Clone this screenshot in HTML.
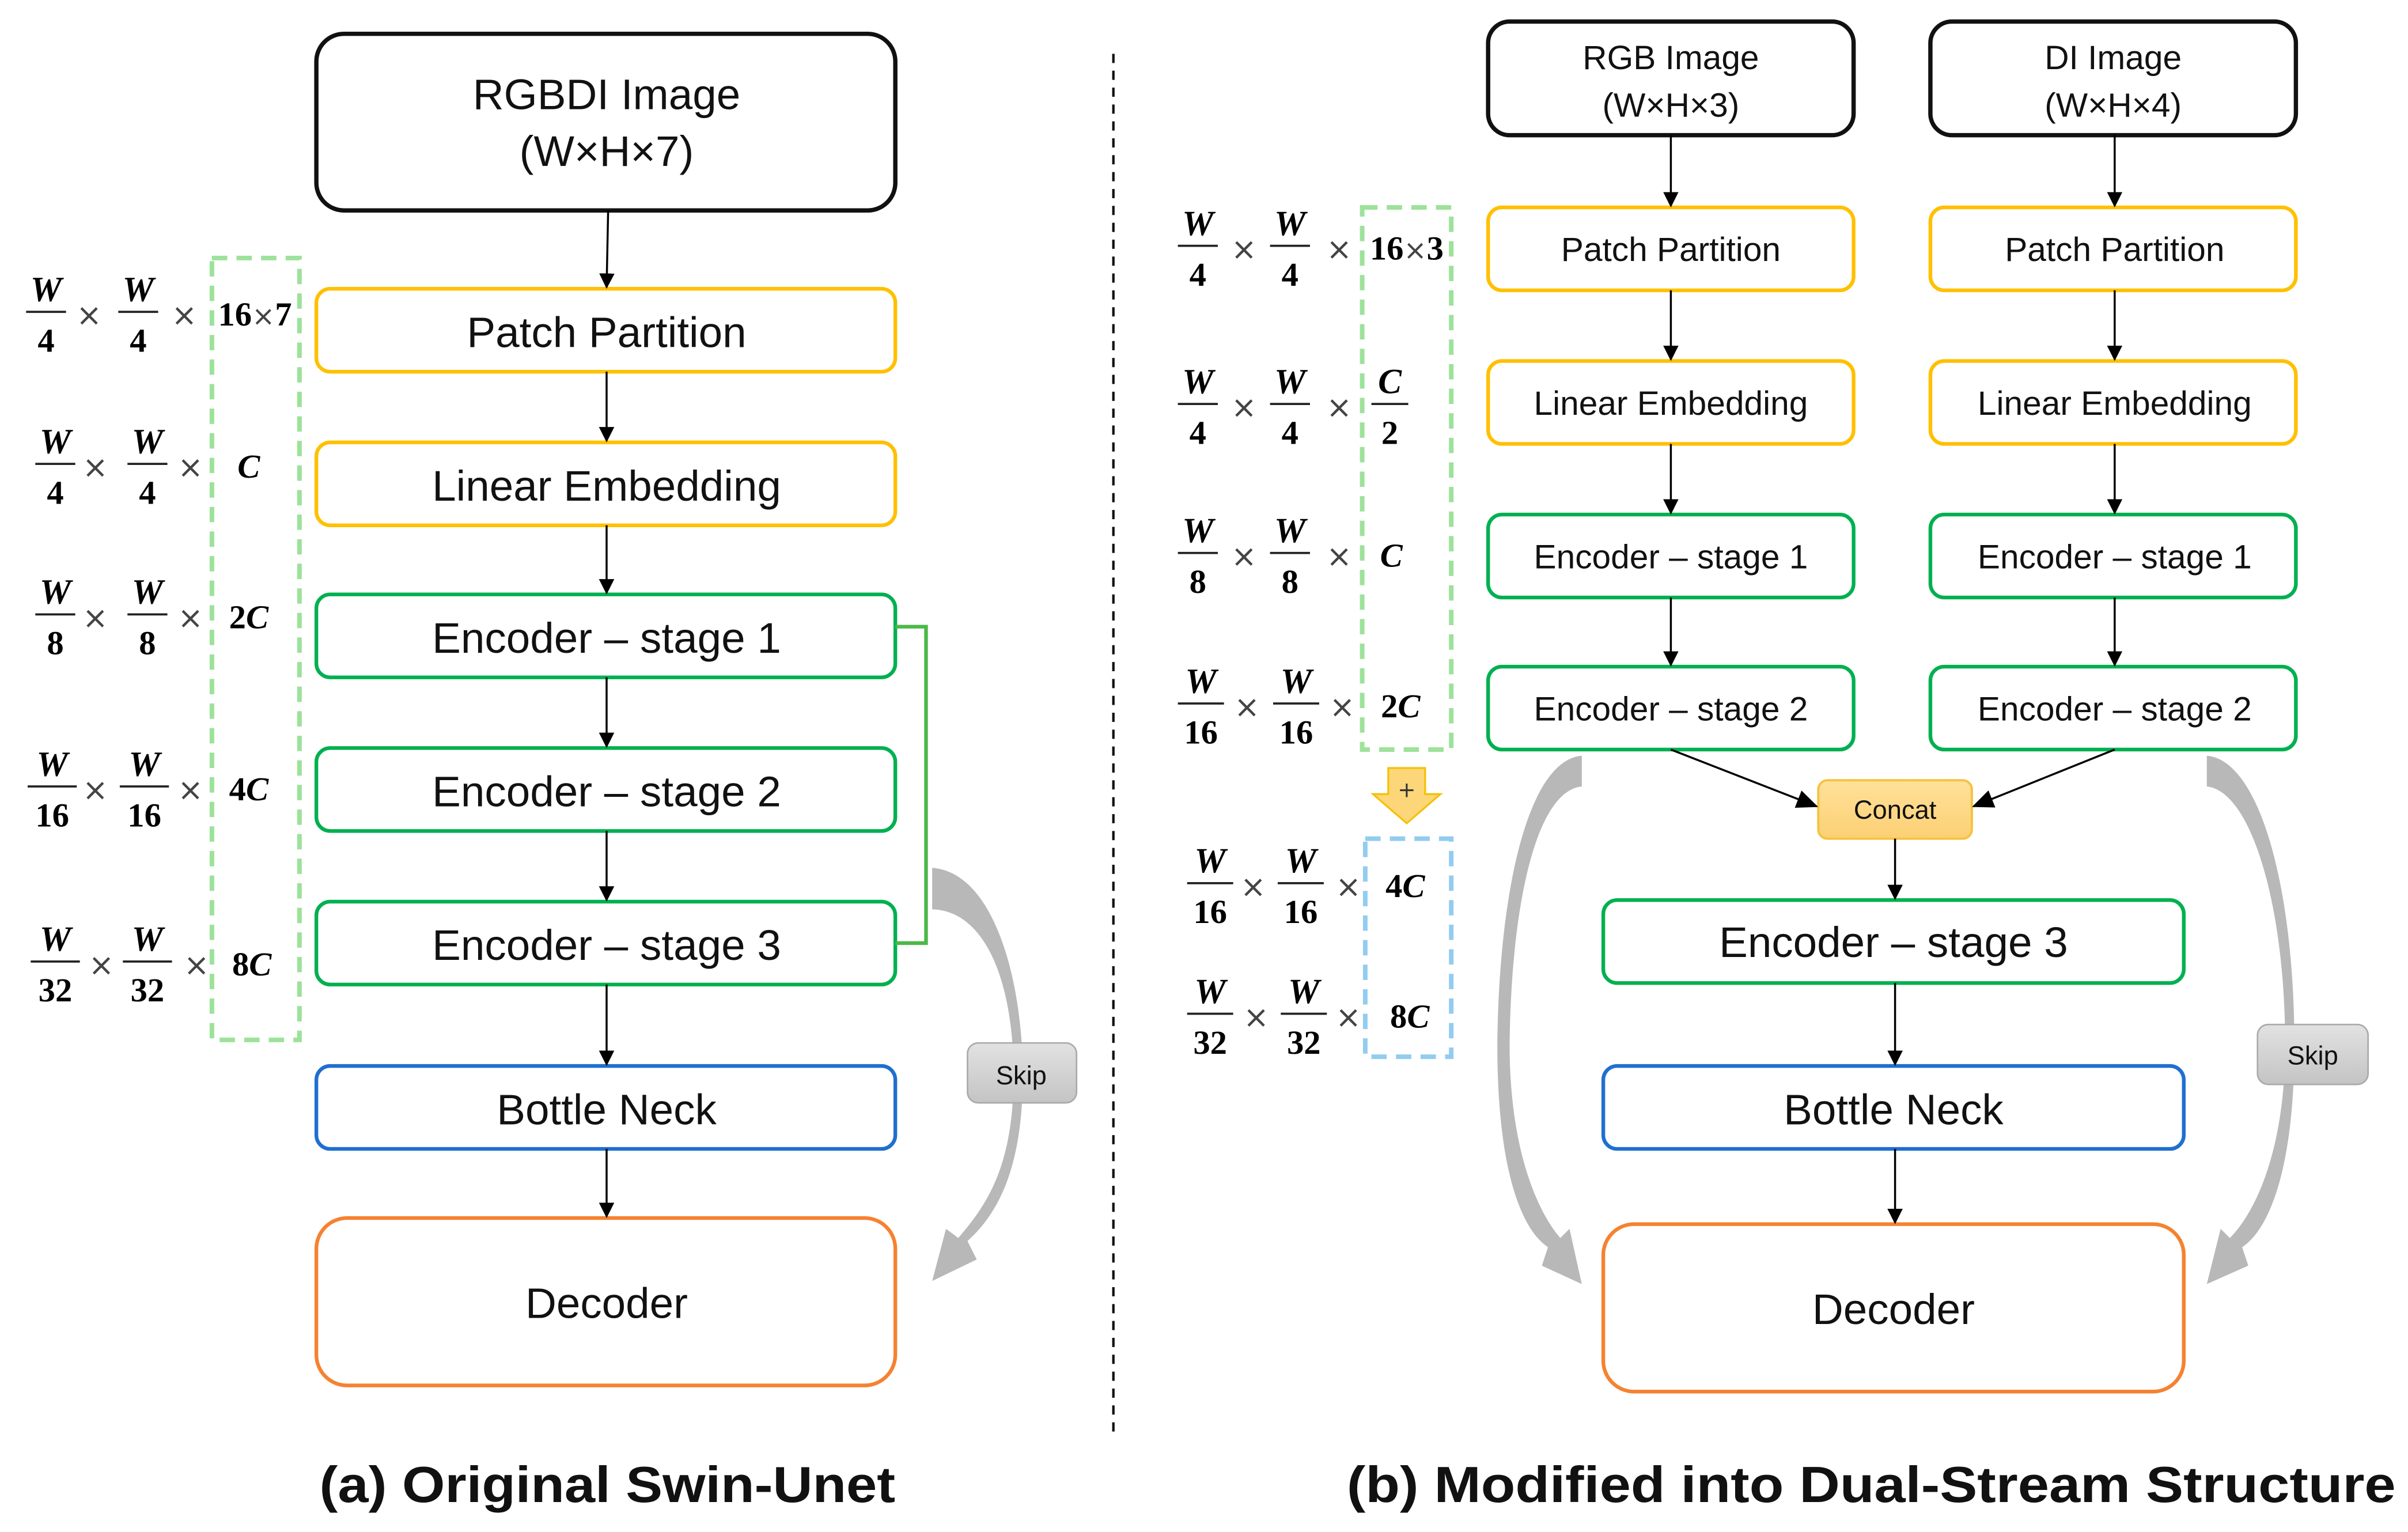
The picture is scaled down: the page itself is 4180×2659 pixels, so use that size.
<!DOCTYPE html>
<html><head><meta charset="utf-8"><style>
html,body{margin:0;padding:0;background:#fff;}
svg{display:block;}
.lb{font-family:"Liberation Sans","DejaVu Sans",sans-serif;fill:#111;text-anchor:middle;}
.w{font-family:"Liberation Serif",serif;font-weight:bold;font-style:italic;font-size:23px;text-anchor:middle;fill:#000;}
.n{font-family:"Liberation Serif",serif;font-weight:bold;font-size:22px;text-anchor:middle;fill:#000;}
.v{font-family:"Liberation Serif",serif;font-weight:bold;font-size:22px;text-anchor:middle;fill:#000;}
.vi{font-style:italic;}
.x{font-family:"DejaVu Sans",sans-serif;font-size:20px;text-anchor:middle;fill:#444;}
.cap{font-family:"Liberation Sans","DejaVu Sans",sans-serif;font-weight:bold;font-size:33px;fill:#111;}
</style></head><body>
<svg width="4180" height="2659" viewBox="0 0 1568 997.4" xmlns="http://www.w3.org/2000/svg">
<defs>
<marker id="ah" markerWidth="10" markerHeight="10" refX="9" refY="5" orient="auto" markerUnits="userSpaceOnUse"><path d="M0,0 L10,5 L0,10 Z" fill="#000"/></marker>
<marker id="ah2" markerWidth="14" markerHeight="12" refX="13" refY="6" orient="auto" markerUnits="userSpaceOnUse"><path d="M0,0 L14,6 L0,12 Z" fill="#000"/></marker>
<linearGradient id="gs" x1="0" y1="0" x2="0" y2="1"><stop offset="0" stop-color="#e2e2e2"/><stop offset="1" stop-color="#c4c4c4"/></linearGradient>
<linearGradient id="gc" x1="0" y1="0" x2="0" y2="1"><stop offset="0" stop-color="#ffe19a"/><stop offset="1" stop-color="#fcd074"/></linearGradient>
</defs>

<!-- ===== LEFT DIAGRAM ===== -->
<g fill="#fff" stroke-width="2.4">
<rect x="206" y="22" width="377" height="115" rx="18" stroke="#111" stroke-width="2.8"/>
<rect x="206" y="188" width="377" height="54" rx="9" stroke="#ffc000"/>
<rect x="206" y="288" width="377" height="54" rx="9" stroke="#ffc000"/>
<rect x="206" y="387" width="377" height="54" rx="9" stroke="#00b050"/>
<rect x="206" y="487" width="377" height="54" rx="9" stroke="#00b050"/>
<rect x="206" y="587" width="377" height="54" rx="9" stroke="#00b050"/>
<rect x="206" y="694" width="377" height="54" rx="9" stroke="#1f6fd0"/>
<rect x="206" y="793" width="377" height="109" rx="20" stroke="#f58231"/>
</g>
<g class="lb" font-size="28">
<text x="395" y="71">RGBDI Image</text>
<text x="395" y="108">(W×H×7)</text>
<text x="395" y="226">Patch Partition</text>
<text x="395" y="326">Linear Embedding</text>
<text x="395" y="425">Encoder – stage 1</text>
<text x="395" y="525">Encoder – stage 2</text>
<text x="395" y="625">Encoder – stage 3</text>
<text x="395" y="732">Bottle Neck</text>
<text x="395" y="858">Decoder</text>
</g>
<g stroke="#000" stroke-width="1.3" marker-end="url(#ah)">
<line x1="396" y1="137" x2="395" y2="187"/>
<line x1="395" y1="242" x2="395" y2="287"/>
<line x1="395" y1="342" x2="395" y2="386"/>
<line x1="395" y1="441" x2="395" y2="486"/>
<line x1="395" y1="541" x2="395" y2="586"/>
<line x1="395" y1="641" x2="395" y2="693"/>
<line x1="395" y1="748" x2="395" y2="792"/>
</g>
<polyline points="583,408 603,408 603,614 583,614" fill="none" stroke="#4cb848" stroke-width="2.4"/>
<rect x="138" y="168" width="57" height="509" fill="none" stroke="#9de29a" stroke-width="3" stroke-dasharray="10,6"/>

<!-- left skip arrow -->
<path d="M607,565 C648,568 666,640 666,700 C666,760 650,790 630,808 L636,820 L607,834 L616,800 L624,806 C642,785 660,760 660,700 C660,640 642,593 607,592 Z" fill="#b8b8b8"/>
<rect x="630" y="679" width="71" height="39" rx="7" fill="url(#gs)" stroke="#aaa" stroke-width="1"/>
<text class="lb" x="665" y="706" font-size="17">Skip</text>

<!-- left fractions -->
<g stroke="#222" stroke-width="1.4">
<line x1="17" y1="203" x2="43" y2="203"/><line x1="77" y1="203" x2="103" y2="203"/>
<line x1="23" y1="302" x2="49" y2="302"/><line x1="83" y1="302" x2="109" y2="302"/>
<line x1="23" y1="400" x2="49" y2="400"/><line x1="83" y1="400" x2="109" y2="400"/>
<line x1="18" y1="512" x2="50" y2="512"/><line x1="78" y1="512" x2="110" y2="512"/>
<line x1="20" y1="626" x2="52" y2="626"/><line x1="80" y1="626" x2="112" y2="626"/>
</g>
<g>
<text class="w" x="30" y="196">W</text><text class="n" x="30" y="229">4</text><text class="x" x="58" y="212">×</text>
<text class="w" x="90" y="196">W</text><text class="n" x="90" y="229">4</text><text class="x" x="120" y="212">×</text>
<text class="v" x="166" y="212">16<tspan font-weight="normal" font-family="DejaVu Sans" font-size="18" fill="#444">×</tspan>7</text>

<text class="w" x="36" y="295">W</text><text class="n" x="36" y="328">4</text><text class="x" x="62" y="311">×</text>
<text class="w" x="96" y="295">W</text><text class="n" x="96" y="328">4</text><text class="x" x="124" y="311">×</text>
<text class="v vi" x="162" y="311">C</text>

<text class="w" x="36" y="393">W</text><text class="n" x="36" y="426">8</text><text class="x" x="62" y="409">×</text>
<text class="w" x="96" y="393">W</text><text class="n" x="96" y="426">8</text><text class="x" x="124" y="409">×</text>
<text class="v" x="162" y="409">2<tspan class="vi">C</tspan></text>

<text class="w" x="34" y="505">W</text><text class="n" x="34" y="538">16</text><text class="x" x="62" y="521">×</text>
<text class="w" x="94" y="505">W</text><text class="n" x="94" y="538">16</text><text class="x" x="124" y="521">×</text>
<text class="v" x="162" y="521">4<tspan class="vi">C</tspan></text>

<text class="w" x="36" y="619">W</text><text class="n" x="36" y="652">32</text><text class="x" x="66" y="635">×</text>
<text class="w" x="96" y="619">W</text><text class="n" x="96" y="652">32</text><text class="x" x="128" y="635">×</text>
<text class="v" x="164" y="635">8<tspan class="vi">C</tspan></text>
</g>

<!-- divider -->
<line x1="725" y1="35" x2="725" y2="935" stroke="#111" stroke-width="1.6" stroke-dasharray="6,5"/>

<!-- ===== RIGHT DIAGRAM ===== -->
<g fill="#fff" stroke-width="2.4">
<rect x="969" y="14" width="238" height="74" rx="14" stroke="#111" stroke-width="2.8"/>
<rect x="1257" y="14" width="238" height="74" rx="14" stroke="#111" stroke-width="2.8"/>
<rect x="969" y="135" width="238" height="54" rx="9" stroke="#ffc000"/>
<rect x="1257" y="135" width="238" height="54" rx="9" stroke="#ffc000"/>
<rect x="969" y="235" width="238" height="54" rx="9" stroke="#ffc000"/>
<rect x="1257" y="235" width="238" height="54" rx="9" stroke="#ffc000"/>
<rect x="969" y="335" width="238" height="54" rx="9" stroke="#00b050"/>
<rect x="1257" y="335" width="238" height="54" rx="9" stroke="#00b050"/>
<rect x="969" y="434" width="238" height="54" rx="9" stroke="#00b050"/>
<rect x="1257" y="434" width="238" height="54" rx="9" stroke="#00b050"/>
<rect x="1044" y="586" width="378" height="54" rx="9" stroke="#00b050"/>
<rect x="1044" y="694" width="378" height="54" rx="9" stroke="#1f6fd0"/>
<rect x="1044" y="797" width="378" height="109" rx="20" stroke="#f58231"/>
</g>
<rect x="1184" y="508" width="100" height="38" rx="6" fill="url(#gc)" stroke="#f5c342" stroke-width="1.5"/>
<g class="lb" font-size="22">
<text x="1088" y="45">RGB Image</text>
<text x="1088" y="76">(W×H×3)</text>
<text x="1376" y="45">DI Image</text>
<text x="1376" y="76">(W×H×4)</text>
<text x="1088" y="170">Patch Partition</text>
<text x="1377" y="170">Patch Partition</text>
<text x="1088" y="270">Linear Embedding</text>
<text x="1377" y="270">Linear Embedding</text>
<text x="1088" y="370">Encoder – stage 1</text>
<text x="1377" y="370">Encoder – stage 1</text>
<text x="1088" y="469">Encoder – stage 2</text>
<text x="1377" y="469">Encoder – stage 2</text>
</g>
<text class="lb" x="1234" y="533" font-size="17">Concat</text>
<g class="lb" font-size="28">
<text x="1233" y="623">Encoder – stage 3</text>
<text x="1233" y="732">Bottle Neck</text>
<text x="1233" y="862">Decoder</text>
</g>
<g stroke="#000" stroke-width="1.3" marker-end="url(#ah)">
<line x1="1088" y1="88" x2="1088" y2="134"/>
<line x1="1377" y1="88" x2="1377" y2="134"/>
<line x1="1088" y1="189" x2="1088" y2="234"/>
<line x1="1377" y1="189" x2="1377" y2="234"/>
<line x1="1088" y1="289" x2="1088" y2="334"/>
<line x1="1377" y1="289" x2="1377" y2="334"/>
<line x1="1088" y1="389" x2="1088" y2="433"/>
<line x1="1377" y1="389" x2="1377" y2="433"/>
<line x1="1234" y1="546" x2="1234" y2="585"/>
<line x1="1234" y1="640" x2="1234" y2="693"/>
<line x1="1234" y1="748" x2="1234" y2="796"/>
</g>
<g stroke="#000" stroke-width="1.3" marker-end="url(#ah2)">
<line x1="1088" y1="488" x2="1183" y2="525"/>
<line x1="1377" y1="488" x2="1285" y2="525"/>
</g>

<!-- right dashed boxes -->
<rect x="887" y="135" width="58" height="353" fill="none" stroke="#9de29a" stroke-width="3" stroke-dasharray="10,6"/>
<rect x="889" y="546" width="56" height="142" fill="none" stroke="#92cdf0" stroke-width="3" stroke-dasharray="10,6"/>
<path d="M904,500 L928,500 L928,517 L938,517 L916,536 L894,517 L904,517 Z" fill="#fdd67a" stroke="#f5c000" stroke-width="1.2"/>
<text x="916" y="519" font-family="DejaVu Sans" font-size="14" text-anchor="middle" fill="#333">+</text>

<!-- right skip arrows -->
<path d="M1030,492 C995,495 976,580 975,680 C975,760 990,800 1008,812 L1004,824 L1030,836 L1022,800 L1016,806 C1002,790 983,750 983,680 C984,590 1000,515 1030,512 Z" fill="#b8b8b8"/>
<path d="M1437,492 C1472,495 1494,580 1494,680 C1494,760 1478,800 1460,812 L1464,824 L1437,836 L1446,800 L1452,806 C1468,790 1488,750 1488,680 C1488,590 1466,515 1437,512 Z" fill="#b8b8b8"/>
<rect x="1470" y="667" width="72" height="39" rx="7" fill="url(#gs)" stroke="#aaa" stroke-width="1"/>
<text class="lb" x="1506" y="693" font-size="17">Skip</text>

<!-- right fractions -->
<g stroke="#222" stroke-width="1.4">
<line x1="767" y1="160" x2="793" y2="160"/><line x1="827" y1="160" x2="853" y2="160"/>
<line x1="767" y1="263" x2="793" y2="263"/><line x1="827" y1="263" x2="853" y2="263"/><line x1="893" y1="263" x2="917" y2="263"/>
<line x1="767" y1="360" x2="793" y2="360"/><line x1="827" y1="360" x2="853" y2="360"/>
<line x1="767" y1="458" x2="797" y2="458"/><line x1="829" y1="458" x2="859" y2="458"/>
<line x1="773" y1="575" x2="803" y2="575"/><line x1="832" y1="575" x2="862" y2="575"/>
<line x1="773" y1="660" x2="803" y2="660"/><line x1="834" y1="660" x2="864" y2="660"/>
</g>
<g>
<text class="w" x="780" y="153">W</text><text class="n" x="780" y="186">4</text><text class="x" x="810" y="169">×</text>
<text class="w" x="840" y="153">W</text><text class="n" x="840" y="186">4</text><text class="x" x="872" y="169">×</text>
<text class="v" x="916" y="169">16<tspan font-weight="normal" font-family="DejaVu Sans" font-size="18" fill="#444">×</tspan>3</text>

<text class="w" x="780" y="256">W</text><text class="n" x="780" y="289">4</text><text class="x" x="810" y="272">×</text>
<text class="w" x="840" y="256">W</text><text class="n" x="840" y="289">4</text><text class="x" x="872" y="272">×</text>
<text class="w" x="905" y="256">C</text><text class="n" x="905" y="289">2</text>

<text class="w" x="780" y="353">W</text><text class="n" x="780" y="386">8</text><text class="x" x="810" y="369">×</text>
<text class="w" x="840" y="353">W</text><text class="n" x="840" y="386">8</text><text class="x" x="872" y="369">×</text>
<text class="v vi" x="906" y="369">C</text>

<text class="w" x="782" y="451">W</text><text class="n" x="782" y="484">16</text><text class="x" x="812" y="467">×</text>
<text class="w" x="844" y="451">W</text><text class="n" x="844" y="484">16</text><text class="x" x="874" y="467">×</text>
<text class="v" x="912" y="467">2<tspan class="vi">C</tspan></text>

<text class="w" x="788" y="568">W</text><text class="n" x="788" y="601">16</text><text class="x" x="816" y="584">×</text>
<text class="w" x="847" y="568">W</text><text class="n" x="847" y="601">16</text><text class="x" x="878" y="584">×</text>
<text class="v" x="915" y="584">4<tspan class="vi">C</tspan></text>

<text class="w" x="788" y="653">W</text><text class="n" x="788" y="686">32</text><text class="x" x="818" y="669">×</text>
<text class="w" x="849" y="653">W</text><text class="n" x="849" y="686">32</text><text class="x" x="878" y="669">×</text>
<text class="v" x="918" y="669">8<tspan class="vi">C</tspan></text>
</g>

<!-- captions -->
<text class="cap" x="208" y="978" textLength="375" lengthAdjust="spacingAndGlyphs">(a) Original Swin-Unet</text>
<text class="cap" x="877" y="978" textLength="683" lengthAdjust="spacingAndGlyphs">(b)  Modified into Dual-Stream Structure</text>
</svg>
</body></html>
